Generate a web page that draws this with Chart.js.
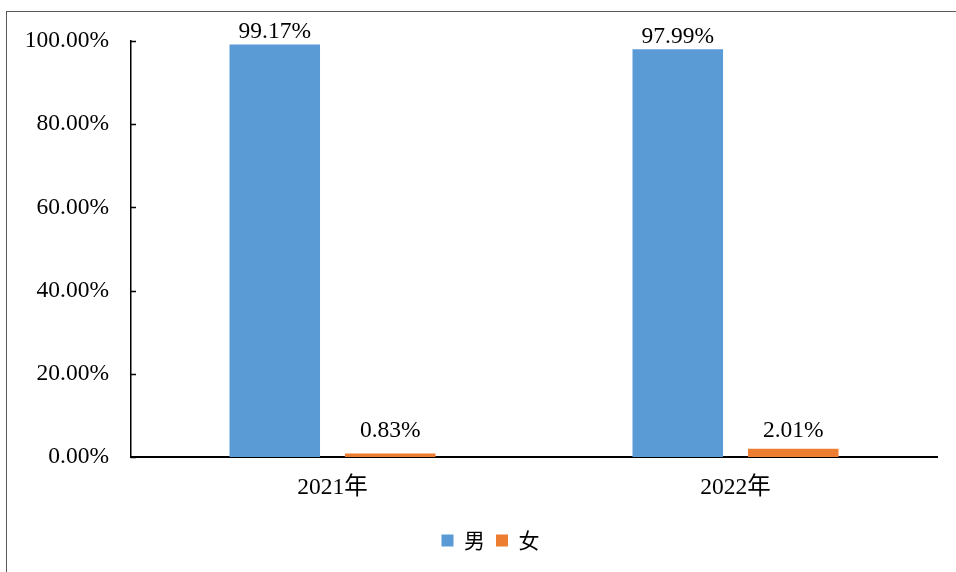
<!DOCTYPE html>
<html lang="zh">

<head>
  <meta charset="UTF-8">
  <title>性别比例</title>
  <script src="https://cdn.jsdelivr.net/npm/chart.js"></script>
  <style>
    body { margin: 0; background: #fff; }
    #wrap { position: relative; width: 956px; height: 572px; overflow: hidden; }
    #frame { position: absolute; left: 6px; top: 11px; width: 1000px; height: 600px;
      border-top: 1px solid #595959; border-left: 1px solid #595959; pointer-events: none; }
  </style>
</head>

<body>
  <div id="wrap">
    <canvas id="genderChart" width="956" height="572"></canvas>
    <div id="frame"></div>
  </div>

  <script>
    const years = ['2021年', '2022年'];
    const male = [99.17, 97.99];
    const female = [0.83, 2.01];
    const yTicks = [0, 20, 40, 60, 80, 100];

    const serif = "'Liberation Serif', 'Times New Roman', 'Noto Sans CJK SC', serif";

    // value labels above each bar
    const barLabels = {
      id: 'barLabels',
      afterDatasetsDraw(chart) {
        const ctx = chart.ctx;
        const base = chart.scales.y.getPixelForValue(0);
        ctx.save();
        ctx.font = '23.5px ' + serif;
        ctx.fillStyle = '#000';
        ctx.textAlign = 'center';
        ctx.textBaseline = 'alphabetic';
        chart.data.datasets.forEach((ds, i) => {
          chart.getDatasetMeta(i).data.forEach((bar, j) => {
            const y = Math.min(bar.y - 6, base - 20);
            ctx.fillText(ds.data[j].toFixed(2) + '%', bar.x, y);
          });
        });
        ctx.restore();
      }
    };

    // small tick marks on the inside of the y axis
    const innerTicks = {
      id: 'innerTicks',
      afterDraw(chart) {
        const ctx = chart.ctx;
        const y = chart.scales.y;
        ctx.save();
        ctx.strokeStyle = '#000';
        ctx.lineWidth = 1.5;
        yTicks.forEach(v => {
          const py = Math.round(y.getPixelForValue(v)) + 0.5;
          ctx.beginPath();
          ctx.moveTo(y.right, py);
          ctx.lineTo(y.right + 5, py);
          ctx.stroke();
        });
        ctx.restore();
      }
    };

    // legend in the original sits a little right of centre
    const legendShift = {
      id: 'legendShift',
      afterLayout(chart) {
        chart.legend.left += 22;
        chart.legend.right += 22;
      }
    };

    const ctx = document.getElementById('genderChart').getContext('2d');
    new Chart(ctx, {
      type: 'bar',
      data: {
        labels: years,
        datasets: [{
          label: '男',
          data: male,
          backgroundColor: '#5B9BD5'
        }, {
          label: '女',
          data: female,
          backgroundColor: '#ED7D31'
        }]
      },
      options: {
        responsive: false,
        animation: false,
        categoryPercentage: 0.573,
        barPercentage: 0.784,
        layout: { padding: { top: 41, right: 19, left: 0, bottom: 11 } },
        scales: {
          x: {
            grid: { display: false, drawTicks: false },
            border: { color: '#000', width: 2 },
            ticks: { color: '#000', font: { family: serif, size: 23.5 }, padding: 17 },
            afterFit: s => { s.height = 62; }
          },
          y: {
            min: 0,
            max: 100,
            grid: { display: false, drawTicks: false },
            border: { color: '#000', width: 1.5 },
            afterBuildTicks: s => { s.ticks = yTicks.map(v => ({ value: v })); },
            ticks: {
              color: '#000',
              font: { family: serif, size: 23.5 },
              padding: 22,
              callback: v => v.toFixed(2) + '%'
            },
            afterFit: s => { s.width = 131; }
          }
        },
        plugins: {
          tooltip: { enabled: false },
          legend: {
            position: 'bottom',
            labels: {
              color: '#000',
              boxWidth: 12,
              boxHeight: 12,
              padding: 11,
              font: { family: "'Noto Sans CJK SC', sans-serif", size: 21 }
            }
          }
        }
      },
      plugins: [barLabels, innerTicks, legendShift]
    });
  </script>
</body>

</html>
